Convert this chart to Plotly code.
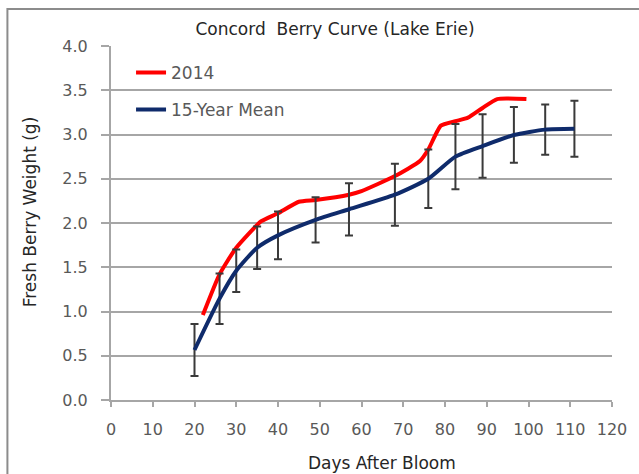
import plotly.graph_objects as go

# 15-year mean with error bars
mean_days = [20, 26, 30, 35, 40, 49, 57, 68, 76, 82.5, 89, 96.5, 104, 111]
mean_weight = [0.565, 1.145, 1.46, 1.72, 1.86, 2.035, 2.155, 2.32, 2.50, 2.75, 2.87, 2.995, 3.055, 3.065]
mean_err = [0.295, 0.285, 0.24, 0.24, 0.27, 0.255, 0.295, 0.35, 0.33, 0.37, 0.36, 0.315, 0.285, 0.315]

# 2014 season
y2014_days = [22, 26, 30, 36, 40, 45, 49, 57, 60, 68, 74, 76, 79, 82.5, 85.5, 89, 92.5, 99.5]
y2014_weight = [0.96, 1.42, 1.72, 2.02, 2.11, 2.24, 2.26, 2.32, 2.36, 2.53, 2.70, 2.83, 3.10, 3.15, 3.19, 3.30, 3.40, 3.40]

x_ticks = list(range(0, 121, 10))
y_ticks = [0.0, 0.5, 1.0, 1.5, 2.0, 2.5, 3.0, 3.5, 4.0]

FONT = "DejaVu Sans"
GRID = "#a6a6a6"
W, H = 639, 474
L, R, T, B = 111, 25, 46, 74
PW, PH = W - L - R, H - T - B

fig = go.Figure()
fig.add_trace(go.Scatter(
    x=y2014_days, y=y2014_weight, name="2014", mode="lines",
    line=dict(color="#ff0000", width=4, shape="spline", smoothing=0.5),
    legendgroup="a",
))
fig.add_trace(go.Scatter(
    x=mean_days, y=mean_weight, name="15-Year Mean", mode="lines",
    line=dict(color="#0f2b6b", width=4, shape="spline", smoothing=0.6),
    error_y=dict(type="data", array=mean_err, visible=True, color="#3a3a3a", thickness=2, width=4),
    legendgroup="b",
))

fig.update_layout(
    width=W, height=H,
    margin=dict(l=L, r=R, t=T, b=B),
    paper_bgcolor="white", plot_bgcolor="white",
    font=dict(family=FONT, size=16, color="#595959"),
    title=dict(text="Concord\u00a0\u00a0Berry Curve (Lake Erie)", x=335/W, xanchor="center",
               y=1-29/H, yanchor="middle", xref="container", yref="container",
               font=dict(family=FONT, size=17, color="#262626")),
    showlegend=True,
    legend=dict(x=0.04, y=0.975, xanchor="left", yanchor="top", bgcolor="rgba(0,0,0,0)",
                font=dict(family=FONT, size=17, color="#595959"), tracegroupgap=12,
                traceorder="grouped"),
    xaxis=dict(range=[0, 120], tickvals=x_ticks, ticktext=[str(v) for v in x_ticks],
               showgrid=False, zeroline=False, showline=True, linecolor=GRID, linewidth=2,
               ticks="outside", ticklen=5, tickcolor=GRID, tickwidth=1.5,
               ticklabelstandoff=9),
    yaxis=dict(range=[0, 4], tickvals=y_ticks, ticktext=[f"{v:.1f}" for v in y_ticks],
               showgrid=True, gridcolor=GRID, gridwidth=2, zeroline=False,
               showline=True, linecolor=GRID, linewidth=2,
               ticks="outside", ticklen=8, tickcolor=GRID, tickwidth=1.5,
               ticklabelstandoff=10),
    annotations=[
        dict(text="Days After Bloom", xref="paper", yref="paper",
             x=(383 - L) / PW, y=-(463 - (T + PH)) / PH, xanchor="center", yanchor="middle",
             showarrow=False, font=dict(family=FONT, size=17, color="#262626")),
        dict(text="Fresh Berry Weight (g)", xref="paper", yref="paper", textangle=-90,
             x=-(L - 30) / PW, y=(T + PH - 212) / PH, xanchor="center", yanchor="middle",
             showarrow=False, font=dict(family=FONT, size=17, color="#262626")),
    ],
    shapes=[dict(type="rect", xref="paper", yref="paper",
                 x0=-(L - 7) / PW, x1=1.07, y0=-0.24, y1=(T + PH - 9) / PH,
                 line=dict(color="#8c8c8c", width=2), fillcolor="rgba(0,0,0,0)", layer="below")],
)

fig.write_html("out.html", config={"displayModeBar": False},
               post_script="document.body.style.margin='0';")
